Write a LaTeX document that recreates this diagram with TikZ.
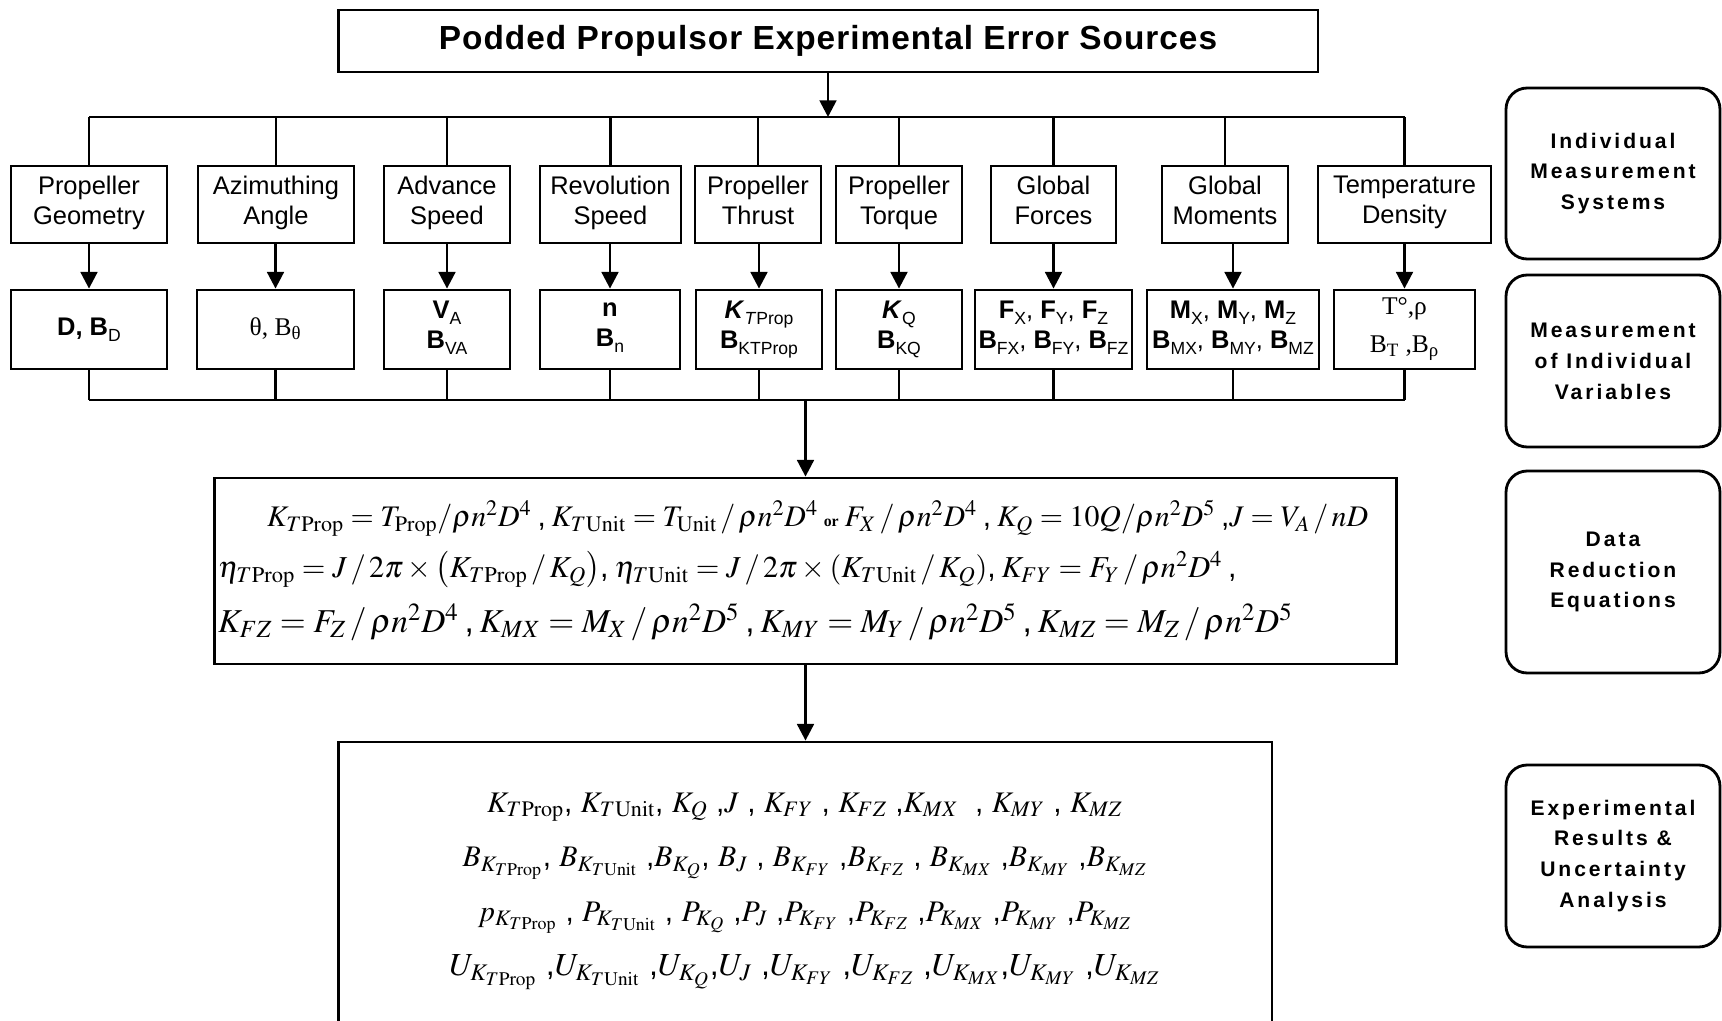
\documentclass[tikz,border=0pt]{standalone}
\usepackage{mathptmx}
\usepackage[no-math]{fontspec}
\setmainfont{Liberation Sans}
\newfontfamily\headfont[LetterSpace=3]{Liberation Sans}
\newfontfamily\sidefont[LetterSpace=14]{Liberation Sans}
\newfontfamily\tnr{Liberation Serif}
\usetikzlibrary{positioning,calc,arrows.meta}

\newcommand{\dv}{\,/\,}
\newcommand{\vsub}[2]{\textbf{#1}\raisebox{-0.45ex}{\fontsize{10}{10}\selectfont #2}}
\newcommand{\eqsize}[1]{\fontsize{#1}{29}\selectfont}

\tikzset{
  box/.style={draw, line width=1.6pt, inner sep=0pt, align=center, font=\fontsize{14.5}{17}\selectfont,
    execute at begin node=\strut, execute at end node=\strut},
  srcbox/.style={box, minimum height=1.54cm},
  varbox/.style={box, minimum height=1.58cm},
  sidebox/.style={draw, line width=1.6pt, rounded corners=12pt, minimum width=4.28cm, align=center, font=\sidefont\bfseries\fontsize{12}{17.6}\selectfont},
  link/.style={line width=1.6pt},
  arr/.style={link, -{Triangle[length=9.5pt,width=9.5pt]}},
}

\begin{document}
\begin{tikzpicture}[x=0.02cm,y=-0.02cm]
  \clip (0,0) rectangle (1722,1021);

  % error sources
  \node[draw, line width=1.6pt, minimum width=19.6cm, minimum height=1.24cm, font=\headfont\bfseries\fontsize{19}{22}\selectfont] (title) at (828,41) {Podded Propulsor Experimental Error Sources};

  % measurement systems
  \node[srcbox, minimum width=3.12cm] (geo) at (89,204.5) {Propeller\\Geometry};
  \node[srcbox, minimum width=3.12cm] (azi) at (276,204.5) {Azimuthing\\Angle};
  \node[srcbox, minimum width=2.52cm] (adv) at (447,204.5) {Advance\\Speed};
  \node[srcbox, minimum width=2.82cm] (rev) at (610.5,204.5) {Revolution\\Speed};
  \node[srcbox, minimum width=2.52cm] (thr) at (758,204.5) {Propeller\\Thrust};
  \node[srcbox, minimum width=2.52cm] (trq) at (899,204.5) {Propeller\\Torque};
  \node[srcbox, minimum width=2.5cm] (gfo) at (1053.5,204.5) {Global\\Forces};
  \node[srcbox, minimum width=2.52cm] (gmo) at (1225,204.5) {Global\\Moments};
  \node[srcbox, minimum width=3.46cm] (tmp) at (1404.5,204.5) {Temperature\\Density};

  % measured variables
  \node[varbox, minimum width=3.12cm] (vgeo) at (89,329.5) {\vsub{D, B}{D}};
  \node[varbox, minimum width=3.14cm] (vazi) at (275.5,329.5) {\tnr θ, B\textsubscript{θ}};
  \node[varbox, minimum width=2.52cm] (vadv) at (447,329.5) {\vsub{V}{A}\\\vsub{B}{VA}};
  \node[varbox, minimum width=2.8cm] (vrev) at (610,329.5) {\textbf{n}\\\vsub{B}{n}};
  \node[varbox, minimum width=2.52cm] (vthr) at (759,329.5) {\vsub{\textit{K}}{\textit{T}Prop}\\\vsub{B}{KTProp}};
  \node[varbox, minimum width=2.52cm] (vtrq) at (899,329.5) {\vsub{\textit{K}}{Q}\\\vsub{B}{KQ}};
  \node[varbox, minimum width=3.14cm] (vgfo) at (1053.5,329.5) {\vsub{F}{X}, \vsub{F}{Y}, \vsub{F}{Z}\\\vsub{B}{FX}, \vsub{B}{FY}, \vsub{B}{FZ}};
  \node[varbox, minimum width=3.44cm] (vgmo) at (1233,329.5) {\vsub{M}{X}, \vsub{M}{Y}, \vsub{M}{Z}\\\vsub{B}{MX}, \vsub{B}{MY}, \vsub{B}{MZ}};
  \node[varbox, minimum width=2.82cm] (vtmp) at (1404.5,329.5) {\tnr T°,ρ\\[5pt]\tnr B\textsubscript{T} ,B\textsubscript{ρ}};

  % data reduction equations
  \node[draw, line width=1.6pt, minimum width=23.66cm, minimum height=3.72cm, text width=23.5cm, inner xsep=0.08cm, align=left] (eqs) at (805.5,571) {%
    \eqsize{17}\hspace*{0.98cm}$K_{T\mathrm{Prop}} = T_{\mathrm{Prop}}/\rho n^{2}D^{4}$ , $K_{T\mathrm{Unit}} = T_{\mathrm{Unit}}\dv\rho n^{2}D^{4}$ {\tnr\bfseries\small or} $F_{X}\dv\rho n^{2}D^{4}$ , $K_{Q} = 10Q/\rho n^{2}D^{5}$ ,$J = V_{A}\dv nD$\par
    \eqsize{17.3}$\eta_{T\mathrm{Prop}} = J\dv 2\pi\times\left(K_{T\mathrm{Prop}}\dv K_{Q}\right)$, $\eta_{T\mathrm{Unit}} = J\dv 2\pi\times\left(K_{T\mathrm{Unit}}\dv K_{Q}\right)$, $K_{FY} = F_{Y}\dv\rho n^{2}D^{4}$ ,\par\vspace{2.5pt}
    \eqsize{19}$K_{FZ} = F_{Z}\dv\rho n^{2}D^{4}$ , $K_{MX} = M_{X}\dv\rho n^{2}D^{5}$ , $K_{MY} = M_{Y}\dv\rho n^{2}D^{5}$ , $K_{MZ} = M_{Z}\dv\rho n^{2}D^{5}$\par};

  % results and uncertainty
  \node[draw, line width=1.6pt, minimum width=18.68cm, minimum height=5.96cm, align=center, font=\fontsize{17}{31}\selectfont] (res) at (805,891) {%
    $K_{T\mathrm{Prop}}$, $K_{T\mathrm{Unit}}$, $K_{Q}$ ,$J$ , $K_{FY}$ , $K_{FZ}$ ,$K_{MX}$ \ , $K_{MY}$ , $K_{MZ}$\\
    $B_{K_{T\mathrm{Prop}}}$, $B_{K_{T\mathrm{Unit}}}$ ,$B_{K_{Q}}$, $B_{J}$ , $B_{K_{FY}}$ ,$B_{K_{FZ}}$ , $B_{K_{MX}}$ ,$B_{K_{MY}}$ ,$B_{K_{MZ}}$\\
    $p_{K_{T\mathrm{Prop}}}$ , $P_{K_{T\mathrm{Unit}}}$ , $P_{K_{Q}}$ ,$P_{J}$ ,$P_{K_{FY}}$ ,$P_{K_{FZ}}$ ,$P_{K_{MX}}$ ,$P_{K_{MY}}$ ,$P_{K_{MZ}}$\\
    \fontsize{18.3}{31}\selectfont$U_{K_{T\mathrm{Prop}}}$ ,$U_{K_{T\mathrm{Unit}}}$ ,$U_{K_{Q}}$,$U_{J}$ ,$U_{K_{FY}}$ ,$U_{K_{FZ}}$ ,$U_{K_{MX}}$,$U_{K_{MY}}$ ,$U_{K_{MZ}}$};

  % stage labels
  \node[sidebox, minimum height=3.42cm] (lblsys) at (1613,173.5) {Individual\\Measurement\\Systems};
  \node[sidebox, minimum height=3.44cm] (lblvar) at (1613,361) {Measurement\\of Individual\\Variables};
  \node[sidebox, minimum height=4.04cm] (lbleqs) at (1613,572) {Data\\Reduction\\Equations};
  \node[sidebox, minimum height=3.64cm] (lblres) at (1613,856) {Experimental\\Results \&\\Uncertainty\\Analysis};

  % connectors
  \coordinate (busL) at (89,117);
  \coordinate (busR) at (1404.5,117);
  \coordinate (lowL) at (89,400);
  \coordinate (lowR) at (1404.5,400);
  \draw[arr] (title.south) -- (title.south |- busL);
  \draw[link] (busL) -- (busR);
  \foreach \n in {geo,azi,adv,rev,thr,trq,gfo,gmo,tmp}
    \draw[link] (\n.north |- busL) -- (\n.north);
  \foreach \n/\v in {geo/vgeo,azi/vazi,adv/vadv,rev/vrev,thr/vthr,trq/vtrq,gfo/vgfo,gmo/vgmo,tmp/vtmp}
    \draw[arr] (\n.south -| \v.north) -- (\v.north);
  \foreach \v in {vgeo,vazi,vadv,vrev,vthr,vtrq,vgfo,vgmo,vtmp}
    \draw[link] (\v.south) -- (\v.south |- lowL);
  \draw[link] (lowL) -- (lowR);
  \draw[arr] (eqs.north |- lowL) -- (eqs.north);
  \draw[arr] (eqs.south) -- (eqs.south |- res.north);
\end{tikzpicture}
\end{document}
